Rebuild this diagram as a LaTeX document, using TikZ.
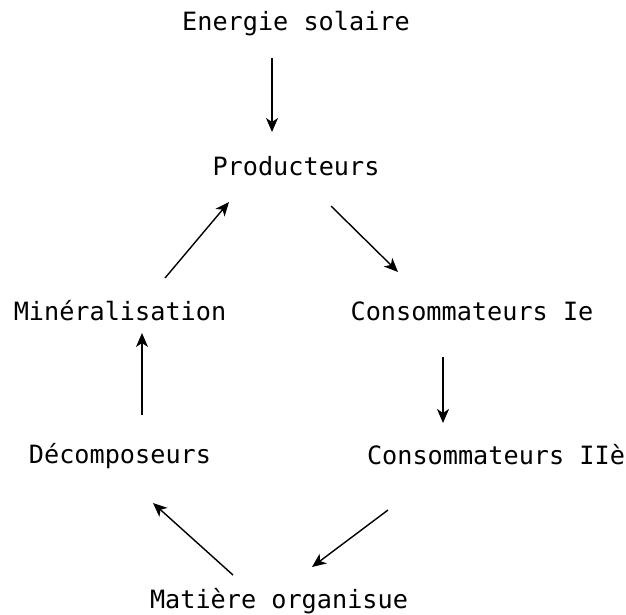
\documentclass[tikz,border=0pt]{standalone}
\usepackage{fontspec}
\setmonofont{DejaVu Sans Mono}
\usetikzlibrary{arrows.meta,calc}

\begin{document}
\begin{tikzpicture}[
    x=1pt, y=-1pt,
    label/.style={font=\ttfamily\fontsize{25.2}{30}\selectfont, inner sep=0pt, anchor=base},
    arrow/.style={-{Stealth[length=14pt,width=12pt,inset=4pt]}, line width=1.4pt}
]
    \useasboundingbox (0,0) rectangle (626,614);
    \node[label] (sol) at (296,30) {Energie solaire};
    \node[label] (prod) at (296,175) {Producteurs};
    \node[label] (mineral) at (120,320) {Minéralisation};
    \node[label] (conso1) at (472,320) {Consommateurs Ie};
    \node[label] (decomp) at (120,463) {Décomposeurs};
    \node[label] (conso2) at (496,464) {Consommateurs IIè};
    \node[label] (matiere) at (279,608) {Matière organisue};

    \draw[arrow] ($(sol.base)+(-24,28)$) -- ($(prod.base)+(-24,-43)$);
    \draw[arrow] ($(prod.base)+(35,31)$) -- ($(conso1.base)+(-74,-48)$);
    \draw[arrow] ($(conso1.base)+(-29,37)$) -- ($(conso2.base)+(-53,-41)$);
    \draw[arrow] ($(conso2.base)+(-108,46)$) -- ($(matiere.base)+(33,-41)$);
    \draw[arrow] ($(matiere.base)+(-46,-33)$) -- ($(decomp.base)+(33,40)$);
    \draw[arrow] ($(decomp.base)+(22,-48)$) -- ($(mineral.base)+(22,13)$);
    \draw[arrow] ($(mineral.base)+(45,-42)$) -- ($(prod.base)+(-67,27)$);
\end{tikzpicture}
\end{document}
